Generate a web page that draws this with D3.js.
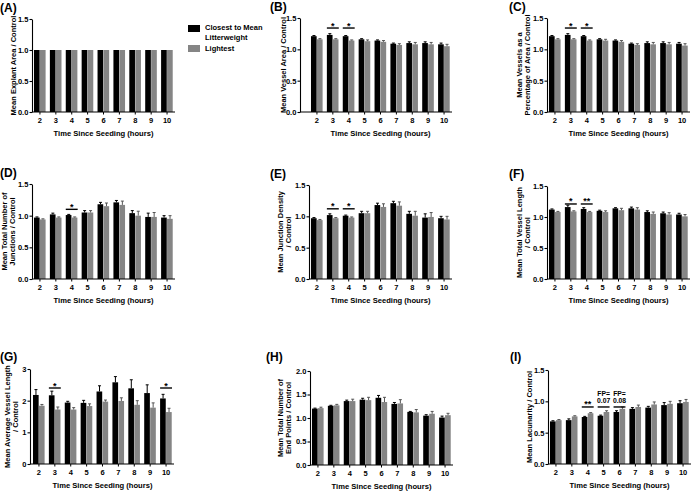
<!DOCTYPE html>
<html>
<head>
<meta charset="utf-8">
<script src="https://cdn.jsdelivr.net/npm/d3@7"></script>
<style>
  body { margin: 0; background: #fff; }
  svg { font-family: "Liberation Sans", Arial, sans-serif; font-weight: bold; }
</style>
</head>
<body>
<div id="svg-container"></div>
<script>
// Data ------------------------------------------------------------------------------------------------------
const hours = [2, 3, 4, 5, 6, 7, 8, 9, 10];
const seriesNames = ["Closest to Mean Litterweight", "Lightest"];

// (A) explant area
const explantBlack = [1, 1, 1, 1, 1, 1, 1, 1, 1];
const explantGray = [1, 1, 1, 1, 1, 1, 1, 1, 1];
const explantBlackErr = [0, 0, 0, 0, 0, 0, 0, 0, 0];
const explantGrayErr = [0, 0, 0, 0, 0, 0, 0, 0, 0];
// (B) vessel area
const vesselAreaBlack = [1.21, 1.23, 1.21, 1.16, 1.14, 1.09, 1.10, 1.10, 1.08];
const vesselAreaGray = [1.16, 1.16, 1.14, 1.13, 1.12, 1.07, 1.08, 1.08, 1.05];
const vesselAreaBlackErr = [0.01, 0.02, 0.01, 0.01, 0.01, 0.01, 0.02, 0.02, 0.02];
const vesselAreaGrayErr = [0.01, 0.01, 0.01, 0.02, 0.02, 0.02, 0.03, 0.03, 0.03];
// (C) vessels as % of area
const vesselPctBlack = [1.21, 1.23, 1.21, 1.16, 1.14, 1.09, 1.10, 1.10, 1.09];
const vesselPctGray = [1.16, 1.16, 1.14, 1.14, 1.12, 1.07, 1.08, 1.08, 1.06];
const vesselPctBlackErr = [0.01, 0.02, 0.01, 0.01, 0.01, 0.01, 0.02, 0.02, 0.02];
const vesselPctGrayErr = [0.01, 0.01, 0.01, 0.02, 0.02, 0.02, 0.03, 0.03, 0.03];
// (D) total number of junctions
const junctionsBlack = [0.97, 1.02, 1.01, 1.05, 1.18, 1.21, 1.04, 0.98, 0.97];
const junctionsGray = [0.94, 0.97, 0.97, 1.05, 1.15, 1.17, 1.00, 0.98, 0.95];
const junctionsBlackErr = [0.01, 0.02, 0.01, 0.03, 0.03, 0.03, 0.04, 0.06, 0.03];
const junctionsGrayErr = [0.01, 0.01, 0.01, 0.03, 0.05, 0.06, 0.07, 0.07, 0.05];
// (E) junction density
const densityBlack = [0.97, 1.02, 1.01, 1.05, 1.18, 1.21, 1.04, 0.98, 0.97];
const densityGray = [0.94, 0.97, 0.98, 1.05, 1.15, 1.17, 1.01, 0.99, 0.95];
const densityBlackErr = [0.01, 0.02, 0.01, 0.03, 0.03, 0.03, 0.04, 0.06, 0.03];
const densityGrayErr = [0.01, 0.01, 0.01, 0.03, 0.05, 0.06, 0.07, 0.07, 0.05];
// (F) total vessel length
const lengthBlack = [1.12, 1.16, 1.13, 1.10, 1.14, 1.14, 1.08, 1.06, 1.04];
const lengthGray = [1.08, 1.09, 1.08, 1.08, 1.11, 1.12, 1.05, 1.04, 1.01];
const lengthBlackErr = [0.01, 0.03, 0.02, 0.01, 0.01, 0.02, 0.02, 0.02, 0.02];
const lengthGrayErr = [0.01, 0.01, 0.01, 0.02, 0.03, 0.03, 0.03, 0.03, 0.03];
// (G) average vessel length
const avgLengthBlack = [2.18, 2.17, 1.94, 1.93, 2.29, 2.58, 2.39, 2.24, 2.07];
const avgLengthGray = [1.84, 1.72, 1.72, 1.83, 1.97, 1.99, 1.87, 1.78, 1.64];
const avgLengthBlackErr = [0.17, 0.13, 0.04, 0.08, 0.18, 0.18, 0.27, 0.26, 0.13];
const avgLengthGrayErr = [0.04, 0.08, 0.06, 0.07, 0.05, 0.10, 0.13, 0.15, 0.12];
// (H) total number of end points
const endPointsBlack = [1.20, 1.26, 1.36, 1.39, 1.43, 1.30, 1.13, 1.05, 1.01];
const endPointsGray = [1.21, 1.27, 1.36, 1.38, 1.34, 1.31, 1.12, 1.09, 1.06];
const endPointsBlackErr = [0.01, 0.01, 0.02, 0.03, 0.05, 0.03, 0.01, 0.02, 0.03];
const endPointsGrayErr = [0.02, 0.02, 0.04, 0.06, 0.10, 0.08, 0.06, 0.05, 0.04];
// (I) lacunarity
const lacunarityBlack = [0.68, 0.70, 0.75, 0.77, 0.83, 0.88, 0.90, 0.94, 0.97];
const lacunarityGray = [0.70, 0.76, 0.81, 0.83, 0.88, 0.91, 0.95, 0.96, 0.99];
const lacunarityBlackErr = [0.01, 0.02, 0.01, 0.01, 0.02, 0.02, 0.02, 0.04, 0.04];
const lacunarityGrayErr = [0.01, 0.01, 0.01, 0.02, 0.03, 0.03, 0.04, 0.04, 0.04];

// y ticks
const ticks15 = [0, 0.5, 1.0, 1.5];
const ticks20 = [0, 0.5, 1.0, 1.5, 2.0];
const ticks3 = [0, 1, 2, 3];

// significance annotations
const sigPanels = ["B", "B", "C", "C", "D", "E", "E", "F", "F", "G", "G", "I", "I", "I"];
const sigHours = [3, 4, 3, 4, 4, 3, 4, 3, 4, 3, 10, 4, 5, 6];
const sigLevels = [1.34, 1.34, 1.34, 1.34, 1.10, 1.12, 1.12, 1.21, 1.21, 2.4, 2.4, 0.91, 0.91, 0.91];
const sigLabels = ["*", "*", "*", "*", "*", "*", "*", "*", "**", "*", "*", "**", "FP=|0.07", "FP=|0.08"];

// Panels -----------------------------------------------------------------------------------------------------
const panels = [
  {id: "A", black: explantBlack, gray: explantGray, be: explantBlackErr, ge: explantGrayErr, ticks: ticks15,
   label: ["Mean Explant Area / Control"], axisX: 32, bandX: 32, top: 19, bottom: 112, labelX: 13, titleX: 0, titleY: 12},
  {id: "B", black: vesselAreaBlack, gray: vesselAreaGray, be: vesselAreaBlackErr, ge: vesselAreaGrayErr, ticks: ticks15,
   label: ["Mean Vessel Area / Control"], axisX: 300, bandX: 309, top: 18, bottom: 112, labelX: 283.5, titleX: 270, titleY: 11},
  {id: "C", black: vesselPctBlack, gray: vesselPctGray, be: vesselPctBlackErr, ge: vesselPctGrayErr, ticks: ticks15,
   label: ["Mean Vessels as a", "Percentage of Area / Control"], axisX: 547, bandX: 547, top: 18, bottom: 112, labelX: 523.5, titleX: 509, titleY: 11},
  {id: "D", black: junctionsBlack, gray: junctionsGray, be: junctionsBlackErr, ge: junctionsGrayErr, ticks: ticks15,
   label: ["Mean Total Number of", "Junctions / Control"], axisX: 32, bandX: 32, top: 184, bottom: 279, labelX: 8.5, titleX: 0, titleY: 177},
  {id: "E", black: densityBlack, gray: densityGray, be: densityBlackErr, ge: densityGrayErr, ticks: ticks15,
   label: ["Mean Junction Density", "/ Control"], axisX: 309, bandX: 309, top: 185, bottom: 279, labelX: 284.5, titleX: 270, titleY: 178},
  {id: "F", black: lengthBlack, gray: lengthGray, be: lengthBlackErr, ge: lengthGrayErr, ticks: ticks15,
   label: ["Mean Total Vessel Length", "/ Control"], axisX: 547, bandX: 547, top: 186, bottom: 279, labelX: 523.5, titleX: 509, titleY: 178},
  {id: "G", black: avgLengthBlack, gray: avgLengthGray, be: avgLengthBlackErr, ge: avgLengthGrayErr, ticks: ticks3,
   label: ["Mean Average Vessel Length", "/ Control"], axisX: 30, bandX: 31, top: 369, bottom: 464, labelX: 11.5, titleX: 0, titleY: 361},
  {id: "H", black: endPointsBlack, gray: endPointsGray, be: endPointsBlackErr, ge: endPointsGrayErr, ticks: ticks20,
   label: ["Mean Total Number of", "End Points / Control"], axisX: 310, bandX: 310, top: 371, bottom: 465, labelX: 284.5, titleX: 266, titleY: 361},
  {id: "I", black: lacunarityBlack, gray: lacunarityGray, be: lacunarityBlackErr, ge: lacunarityGrayErr, ticks: ticks15,
   label: ["Mean Lacunarity / Control"], axisX: 548, bandX: 548, top: 370, bottom: 464, labelX: 529.5, titleX: 510, titleY: 361}
];

const width = 692, height = 491, bandLen = 143;
const grayColor = "#858585";

const svg = d3.select("#svg-container").append("svg")
  .attr("width", width)
  .attr("height", height);

panels.forEach(p => {
  const g = svg.append("g");
  const yMax = p.ticks[p.ticks.length - 1];

  const x = d3.scaleBand()
    .domain(hours)
    .range([p.bandX, p.bandX + bandLen])
    .paddingInner(0.25)
    .paddingOuter(0.125);
  const y = d3.scaleLinear()
    .domain([0, yMax])
    .range([p.bottom, p.top]);
  const bw = x.bandwidth() / 2;

  // bars + error bars
  [[p.black, p.be, "#000", "#000", 0], [p.gray, p.ge, grayColor, "#555", 1]].forEach(([vals, errs, fill, errCol, k]) => {
    const rows = hours.map((h, i) => ({h, v: vals[i], e: errs[i]}));
    g.selectAll(null).data(rows).enter().append("rect")
      .attr("x", d => x(d.h) + k * bw)
      .attr("y", d => y(d.v))
      .attr("width", bw - 0.3)
      .attr("height", d => y(0) - y(d.v))
      .attr("fill", fill);
    const eb = rows.filter(d => d.e > 0);
    g.selectAll(null).data(eb).enter().append("line")
      .attr("x1", d => x(d.h) + k * bw + bw / 2)
      .attr("x2", d => x(d.h) + k * bw + bw / 2)
      .attr("y1", d => y(d.v))
      .attr("y2", d => y(d.v + d.e))
      .attr("stroke", errCol).attr("stroke-width", 1);
    g.selectAll(null).data(eb).enter().append("line")
      .attr("x1", d => x(d.h) + k * bw + bw / 2 - 1.5)
      .attr("x2", d => x(d.h) + k * bw + bw / 2 + 1.5)
      .attr("y1", d => y(d.v + d.e))
      .attr("y2", d => y(d.v + d.e))
      .attr("stroke", errCol).attr("stroke-width", 1);
  });

  // y axis
  const fmt = p.id === "G" ? d3.format("d") : d3.format(".1f");
  const yAxis = g.append("g")
    .attr("transform", `translate(${p.axisX},0)`)
    .call(d3.axisLeft(y).tickValues(p.ticks).tickSize(2.5).tickPadding(1.2).tickSizeOuter(0).tickFormat(fmt));
  yAxis.selectAll("text").attr("font-size", 7.5).attr("font-family", "Liberation Sans").attr("font-weight", "bold");
  yAxis.selectAll("path, line").attr("stroke", "#000").attr("stroke-width", 1.1);

  // x axis
  g.append("line")
    .attr("x1", p.axisX).attr("x2", p.bandX + bandLen)
    .attr("y1", p.bottom).attr("y2", p.bottom)
    .attr("stroke", "#000").attr("stroke-width", 1.2);
  g.selectAll(null).data(hours).enter().append("line")
    .attr("x1", d => x(d) + x.bandwidth() / 2).attr("x2", d => x(d) + x.bandwidth() / 2)
    .attr("y1", p.bottom).attr("y2", p.bottom + 2.5)
    .attr("stroke", "#000").attr("stroke-width", 1);
  g.selectAll(null).data(hours).enter().append("text")
    .attr("x", d => x(d) + x.bandwidth() / 2)
    .attr("y", p.bottom + 10.5)
    .attr("text-anchor", "middle")
    .attr("font-size", 7.5)
    .text(d => d);
  g.append("text")
    .attr("x", p.bandX + bandLen / 2)
    .attr("y", p.bottom + 24)
    .attr("text-anchor", "middle")
    .attr("font-size", 7.6)
    .text("Time Since Seeding (hours)");

  // y label
  const midY = (p.top + p.bottom) / 2;
  const yl = g.append("text")
    .attr("transform", `translate(${p.labelX},${midY}) rotate(-90)`)
    .attr("text-anchor", "middle")
    .attr("font-size", 7.5);
  p.label.forEach((line, i) => {
    yl.append("tspan").attr("x", 0).attr("dy", i === 0 ? (p.label.length > 1 ? -1.8 : 2.5) : 8.6).text(line);
  });

  // panel title
  g.append("text")
    .attr("x", p.titleX).attr("y", p.titleY)
    .attr("font-size", 12)
    .text(`(${p.id})`);

  // significance
  sigPanels.forEach((sp, i) => {
    if (sp !== p.id) return;
    const x0 = x(sigHours[i]), ly = y(sigLevels[i]);
    g.append("line")
      .attr("x1", x0).attr("x2", x0 + x.bandwidth())
      .attr("y1", ly).attr("y2", ly)
      .attr("stroke", "#000").attr("stroke-width", 1.4);
    const parts = sigLabels[i].split("|");
    if (parts.length === 1) {
      g.append("text")
        .attr("x", x0 + x.bandwidth() / 2).attr("y", ly + 0.5)
        .attr("text-anchor", "middle")
        .attr("font-size", 9)
        .text(parts[0]);
    } else {
      parts.forEach((t, j) => {
        g.append("text")
          .attr("x", x0 + x.bandwidth() / 2).attr("y", ly - 11 + j * 7.5)
          .attr("text-anchor", "middle")
          .attr("font-size", 6.8)
          .text(t);
      });
    }
  });
});

// Legend ------------------------------------------------------------------------------------------------------
const legend = svg.append("g");
legend.append("rect").attr("x", 188).attr("y", 25).attr("width", 12).attr("height", 7).attr("fill", "#000");
legend.append("rect").attr("x", 188).attr("y", 45).attr("width", 12).attr("height", 7).attr("fill", grayColor);
legend.append("text").attr("x", 205).attr("y", 30).attr("font-size", 7.5).text("Closest to Mean");
legend.append("text").attr("x", 205).attr("y", 39.5).attr("font-size", 7.5).text("Litterweight");
legend.append("text").attr("x", 205).attr("y", 51).attr("font-size", 7.5).text(seriesNames[1]);
</script>
</body>
</html>
